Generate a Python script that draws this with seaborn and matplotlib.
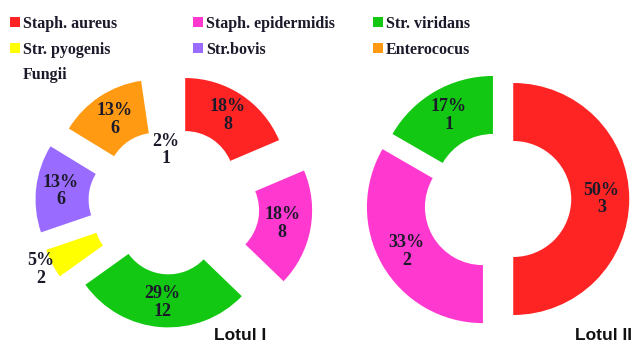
import numpy as np
import matplotlib
matplotlib.use("Agg")
import matplotlib.pyplot as plt
from matplotlib.patches import Patch
import seaborn as sns

# Isolates per group (counts) and the percentages printed on each ring
species = ["Staph. aureus", "Staph. epidermidis", "Str. viridans",
           "Str. pyogenis", "Str.bovis", "Enterococus", "Fungii"]
colors = ["#fe2424", "#ff38d0", "#12c812", "#ffff00", "#9a6bff", "#ff9a12", "#ffffff"]

counts_lot1 = [8, 8, 12, 2, 6, 6, 1]
pct_lot1 = [18, 18, 29, 5, 13, 13, 2]

species_lot2 = ["Staph. aureus", "Staph. epidermidis", "Str. viridans"]
counts_lot2 = [3, 2, 1]
pct_lot2 = [50, 33, 17]

group_titles = ["Lotul I", "Lotul II"]

sns.set_theme(style="white")
plt.rcParams["font.family"] = ["Liberation Serif", "DejaVu Serif"]

W, H = 632, 347
fig = plt.figure(figsize=(W / 100, H / 100), dpi=100)
fig.patch.set_facecolor("white")

TXT = "#1b1a2a"


def ring_axes(cx, cy, R):
    """Full-figure axes where one data unit equals R pixels, centred at (cx, cy)."""
    ax = fig.add_axes([0, 0, 1, 1])
    ax.set_axis_off()
    return ax, (-cx / R, (W - cx) / R), ((cy - H) / R, cy / R)


def draw_ring(ax, lims, counts, pcts, cols, explode, width, label_r):
    wedges, _ = ax.pie(counts, colors=cols, startangle=90, counterclock=False,
                       explode=explode, radius=1.0,
                       wedgeprops=dict(width=width, linewidth=0, edgecolor="none"))
    for w, p, n, lr in zip(wedges, pcts, counts, label_r):
        th = np.deg2rad(0.5 * (w.theta1 + w.theta2))
        x0, y0 = w.center
        ax.text(x0 + lr * np.cos(th), y0 + lr * np.sin(th), f"{p}%\n{n}",
                ha="center", va="center", fontsize=13, fontweight="bold",
                color=TXT, linespacing=1.05)
    ax.set_aspect("auto")
    ax.set_xlim(*lims[0])
    ax.set_ylim(*lims[1])


# Lotul I ring
ax1, xl1, yl1 = ring_axes(170, 203, 102)
draw_ring(ax1, (xl1, yl1), counts_lot1, pct_lot1, colors,
          explode=[0.27, 0.40, 0.22, 0.30, 0.32, 0.25, 0.0], width=0.52,
          label_r=[0.76, 0.72, 0.76, 1.12, 0.76, 0.73, 0.52])

# Lotul II ring
ax2, xl2, yl2 = ring_axes(497, 199, 116)
draw_ring(ax2, (xl2, yl2), counts_lot2, pct_lot2, colors[:3],
          explode=[0.14, 0.14, 0.07], width=0.5,
          label_r=[0.76, 0.76, 0.76])

fig.text(214 / W, 1 - 336 / H, group_titles[0], family=["Liberation Sans", "DejaVu Sans"],
         fontsize=12.5, fontweight="bold", color="#111111", ha="left", va="center")
fig.text(575 / W, 1 - 336 / H, group_titles[1], family=["Liberation Sans", "DejaVu Sans"],
         fontsize=12.5, fontweight="bold", color="#111111", ha="left", va="center")

# Legend laid out as three columns, read row by row
handles = [Patch(facecolor=c, edgecolor="none") for c in colors]
columns = [[0, 3, 6], [1, 4], [2, 5]]
col_x = [10, 193, 373]
for idx, x in zip(columns, col_x):
    fig.legend([handles[i] for i in idx], [species[i] for i in idx],
               loc="upper left", bbox_to_anchor=(x / W, 1 - 16 / H),
               bbox_transform=fig.transFigure, frameon=False,
               borderpad=0, borderaxespad=0, handlelength=0.6, handleheight=0.6,
               handletextpad=0.2, labelspacing=0.6,
               prop=dict(family="Liberation Serif", weight="bold", size=11.5),
               labelcolor=TXT)

fig.savefig("out.png", dpi=100, facecolor="white")
